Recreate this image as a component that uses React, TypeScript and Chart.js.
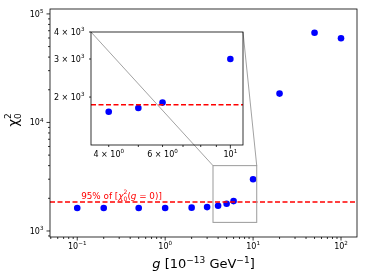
import React, { useEffect, useRef } from 'react';
import { Chart, registerables } from 'chart.js';

Chart.register(...registerables);

const FONT = '"DejaVu Sans", sans-serif';

// ---- data ----
const G_VALUES = [0.1, 0.2, 0.5, 1, 2, 3, 4, 5, 6, 10, 20, 50, 100];
const CHI2_VALUES = [1630, 1630, 1630, 1630, 1640, 1660, 1710, 1780, 1885, 3000, 18450, 67100, 59600];
const THRESHOLD = 1845;

const MAIN_X_RANGE = [0.049, 152];
const MAIN_Y_RANGE = [880, 111000];
const INSET_X_RANGE = [3.5, 11];
const INSET_Y_RANGE = [1200, 4000];

// tick labels: [value, mantissa text, exponent]
const MAIN_X_TICK_LABELS: [number, string, string][] = [[0.1, '10', '−1'], [1, '10', '0'], [10, '10', '1'], [100, '10', '2']];
const MAIN_Y_TICK_LABELS: [number, string, string][] = [[1000, '10', '3'], [10000, '10', '4'], [100000, '10', '5']];
const INSET_X_TICK_LABELS: [number, string, string][] = [[4, '4 × 10', '0'], [6, '6 × 10', '0'], [10, '10', '1']];
const INSET_Y_TICK_LABELS: [number, string, string][] = [[2000, '2 × 10', '3'], [3000, '3 × 10', '3'], [4000, '4 × 10', '3']];

const INSET_POS = { left: 41, top: 22, width: 208, height: 138 };

// ---- helpers ----
function logTicks(min: number, max: number) {
  const out: { value: number; major: boolean }[] = [];
  for (let e = Math.floor(Math.log10(min)); e <= Math.ceil(Math.log10(max)); e++) {
    for (let k = 1; k <= 9; k++) {
      const v = Number((k * Math.pow(10, e)).toPrecision(6));
      if (v >= min && v <= max) out.push({ value: v, major: k === 1 });
    }
  }
  return out;
}
function isDecade(v: number) {
  const l = Math.log10(v);
  return Math.abs(l - Math.round(l)) < 1e-9;
}

type Seg = { t?: string; sup?: string; sub?: string; size: number; dy?: number; italic?: boolean; supDy?: number; subDy?: number; ox?: number };
function fontOf(size: number, italic?: boolean) {
  return `${italic ? 'italic ' : ''}${size}px ${FONT}`;
}
function segWidth(ctx: CanvasRenderingContext2D, s: Seg) {
  if (s.sup !== undefined) {
    ctx.font = fontOf(s.size);
    return Math.max(ctx.measureText(s.sup).width, ctx.measureText(s.sub || '').width);
  }
  ctx.font = fontOf(s.size, s.italic);
  return ctx.measureText(s.t || '').width;
}
function drawRich(ctx: CanvasRenderingContext2D, segs: Seg[], x: number, y: number, align: 'left' | 'center' | 'right') {
  const total = segs.reduce((a, s) => a + segWidth(ctx, s), 0);
  const start = align === 'center' ? x - total / 2 : align === 'right' ? x - total : x;
  let cx = start;
  ctx.textBaseline = 'alphabetic';
  ctx.textAlign = 'left';
  for (const s of segs) {
    if (s.ox !== undefined) cx = start + s.ox;
    const w = segWidth(ctx, s);
    if (s.sup !== undefined) {
      ctx.font = fontOf(s.size);
      ctx.fillText(s.sup, cx, y + (s.supDy || 0));
      ctx.fillText(s.sub || '', cx, y + (s.subDy || 0));
    } else {
      ctx.font = fontOf(s.size, s.italic);
      ctx.fillText(s.t || '', cx, y + (s.dy || 0));
    }
    cx += w;
  }
}
function tickSegs(base: string, exp: string): Seg[] {
  return [
    { t: base, size: 8 },
    { t: exp, size: 5.6, dy: -3.6 },
  ];
}

function drawFrameTicksLabels(chart: any, xLabels: [number, string, string][], yLabels: [number, string, string][]) {
  const { ctx, chartArea: a, scales } = chart;
  const x = scales.x, y = scales.y;
  ctx.save();
  ctx.strokeStyle = '#000';
  ctx.lineWidth = 0.8;
  ctx.strokeRect(a.left, a.top, a.right - a.left, a.bottom - a.top);
  ctx.beginPath();
  for (const t of x.ticks) {
    const px = x.getPixelForValue(t.value);
    const len = isDecade(t.value) ? 3.5 : 2;
    ctx.moveTo(px, a.bottom);
    ctx.lineTo(px, a.bottom + len);
  }
  for (const t of y.ticks) {
    const py = y.getPixelForValue(t.value);
    const len = isDecade(t.value) ? 3.5 : 2;
    ctx.moveTo(a.left, py);
    ctx.lineTo(a.left - len, py);
  }
  ctx.stroke();
  ctx.fillStyle = '#000';
  for (const [v, base, exp] of xLabels) {
    drawRich(ctx, tickSegs(base, exp), x.getPixelForValue(v), a.bottom + 11.5, 'center');
  }
  for (const [v, base, exp] of yLabels) {
    drawRich(ctx, tickSegs(base, exp), a.left - 6.5, y.getPixelForValue(v) + 2.9, 'right');
  }
  ctx.restore();
}

function scaleOpts(range: number[], tickList: () => any[], size: number, isX: boolean) {
  return {
    type: 'logarithmic' as const,
    min: range[0],
    max: range[1],
    grid: { display: false, drawTicks: false },
    border: { display: false },
    ticks: { display: false, autoSkip: false },
    afterBuildTicks: (scale: any) => {
      scale.ticks = tickList();
    },
    afterFit: (scale: any) => {
      if (isX) scale.height = size;
      else scale.width = size;
      scale.paddingTop = 0;
      scale.paddingBottom = 0;
      scale.paddingLeft = 0;
      scale.paddingRight = 0;
    },
  };
}

export default function App() {
  const mainRef = useRef<HTMLCanvasElement>(null);
  const insetRef = useRef<HTMLCanvasElement>(null);

  useEffect(() => {
    if (!mainRef.current || !insetRef.current) return;

    const points = G_VALUES.map((g, i) => ({ x: g, y: CHI2_VALUES[i] }));
    const insetPoints = points.filter(
      (p) => p.x >= INSET_X_RANGE[0] && p.x <= INSET_X_RANGE[1] && p.y >= INSET_Y_RANGE[0] && p.y <= INSET_Y_RANGE[1]
    );

    const insetChart = new Chart(insetRef.current, {
      type: 'scatter',
      data: {
        datasets: [
          {
            data: [
              { x: INSET_X_RANGE[0], y: THRESHOLD },
              { x: INSET_X_RANGE[1], y: THRESHOLD },
            ],
            showLine: true,
            pointRadius: 0,
            borderColor: '#ff0000',
            borderWidth: 1.5,
            borderDash: [5, 2.5],
          },
          {
            data: insetPoints,
            pointRadius: 3.3,
            pointBackgroundColor: '#0000ff',
            pointBorderWidth: 0,
            borderColor: '#0000ff',
          },
        ],
      },
      options: {
        animation: false,
        responsive: false,
        devicePixelRatio: 1,
        layout: { padding: { top: 10, right: 6, left: 0, bottom: 0 } },
        plugins: { legend: { display: false }, tooltip: { enabled: false } },
        scales: {
          x: scaleOpts(INSET_X_RANGE, () => logTicks(INSET_X_RANGE[0], INSET_X_RANGE[1]), 15, true),
          y: scaleOpts(INSET_Y_RANGE, () => logTicks(INSET_Y_RANGE[0], INSET_Y_RANGE[1]), 50, false),
        },
      },
      plugins: [
        {
          id: 'insetDecor',
          afterDraw: (chart: any) => drawFrameTicksLabels(chart, INSET_X_TICK_LABELS, INSET_Y_TICK_LABELS),
        },
      ],
    } as any);

    const mainChart = new Chart(mainRef.current, {
      type: 'scatter',
      data: {
        datasets: [
          {
            data: [
              { x: MAIN_X_RANGE[0], y: THRESHOLD },
              { x: MAIN_X_RANGE[1], y: THRESHOLD },
            ],
            showLine: true,
            pointRadius: 0,
            borderColor: '#ff0000',
            borderWidth: 1.5,
            borderDash: [5, 2.5],
          },
          {
            data: points,
            pointRadius: 3.3,
            pointBackgroundColor: '#0000ff',
            pointBorderWidth: 0,
            borderColor: '#0000ff',
          },
        ],
      },
      options: {
        animation: false,
        responsive: false,
        devicePixelRatio: 1,
        layout: { padding: { top: 9, right: 9, left: 0, bottom: 0 } },
        plugins: { legend: { display: false }, tooltip: { enabled: false } },
        scales: {
          x: scaleOpts(MAIN_X_RANGE, () => logTicks(MAIN_X_RANGE[0], MAIN_X_RANGE[1]), 41, true),
          y: scaleOpts(MAIN_Y_RANGE, () => logTicks(MAIN_Y_RANGE[0], MAIN_Y_RANGE[1]), 50, false),
        },
      },
      plugins: [
        {
          id: 'mainDecor',
          afterDraw: (chart: any) => {
            drawFrameTicksLabels(chart, MAIN_X_TICK_LABELS, MAIN_Y_TICK_LABELS);
            const { ctx, chartArea: a, scales } = chart;
            const x = scales.x, y = scales.y;
            ctx.save();
            // inset indicator rectangle
            const rx0 = x.getPixelForValue(INSET_X_RANGE[0]);
            const rx1 = x.getPixelForValue(INSET_X_RANGE[1]);
            const ry0 = y.getPixelForValue(INSET_Y_RANGE[1]);
            const ry1 = y.getPixelForValue(INSET_Y_RANGE[0]);
            ctx.strokeStyle = '#9a9a9a';
            ctx.lineWidth = 1;
            ctx.strokeRect(rx0, ry0, rx1 - rx0, ry1 - ry0);
            // connectors
            const ia = insetChart.chartArea;
            ctx.strokeStyle = '#8a8a8a';
            ctx.lineWidth = 0.8;
            ctx.beginPath();
            ctx.moveTo(INSET_POS.left + ia.left, INSET_POS.top + ia.top);
            ctx.lineTo(rx0, ry0);
            ctx.moveTo(INSET_POS.left + ia.right, INSET_POS.top + ia.top);
            ctx.lineTo(rx1, ry0);
            ctx.stroke();

            // annotation text
            ctx.fillStyle = '#ff0000';
            drawRich(
              ctx,
              [
                { t: '95% of [', size: 8.8 },
                { t: 'χ', size: 9, italic: true },
                { sup: '2', sub: '0', size: 6, supDy: -4.2, subDy: 2 },
                { t: '(', size: 8.8 },
                { t: 'g', size: 8.8, italic: true },
                { t: ' = ', size: 8.8 },
                { t: '0)]', size: 8.8 },
              ],
              121.5,
              198.5,
              'center'
            );

            // x title
            ctx.fillStyle = '#000';
            drawRich(
              ctx,
              [
                { t: 'g', size: 13, italic: true },
                { t: ' [10', size: 13 },
                { t: '−13', size: 9, dy: -5.5 },
                { t: ' GeV', size: 13 },
                { t: '−1', size: 9, dy: -5.5 },
                { t: ']', size: 13 },
              ],
              (a.left + a.right) / 2,
              268,
              'center'
            );

            // y title (rotated)
            ctx.translate(17.5, 120);
            ctx.rotate(-Math.PI / 2);
            drawRich(
              ctx,
              [
                { t: 'χ', size: 13.5 },
                { sup: '2', sub: '0', size: 9, supDy: -6.5, subDy: 3 },
              ],
              0,
              0,
              'center'
            );
            ctx.restore();
          },
        },
      ],
    } as any);

    return () => {
      mainChart.destroy();
      insetChart.destroy();
    };
  }, []);

  return (
    <div style={{ position: 'absolute', left: 0, top: 0, width: 366, height: 278, background: '#fff' }}>
      <canvas ref={mainRef} width={366} height={278} style={{ position: 'absolute', left: 0, top: 0, width: 366, height: 278 }} />
      <canvas
        ref={insetRef}
        width={INSET_POS.width}
        height={INSET_POS.height}
        style={{ position: 'absolute', left: INSET_POS.left, top: INSET_POS.top, width: INSET_POS.width, height: INSET_POS.height }}
      />
    </div>
  );
}
